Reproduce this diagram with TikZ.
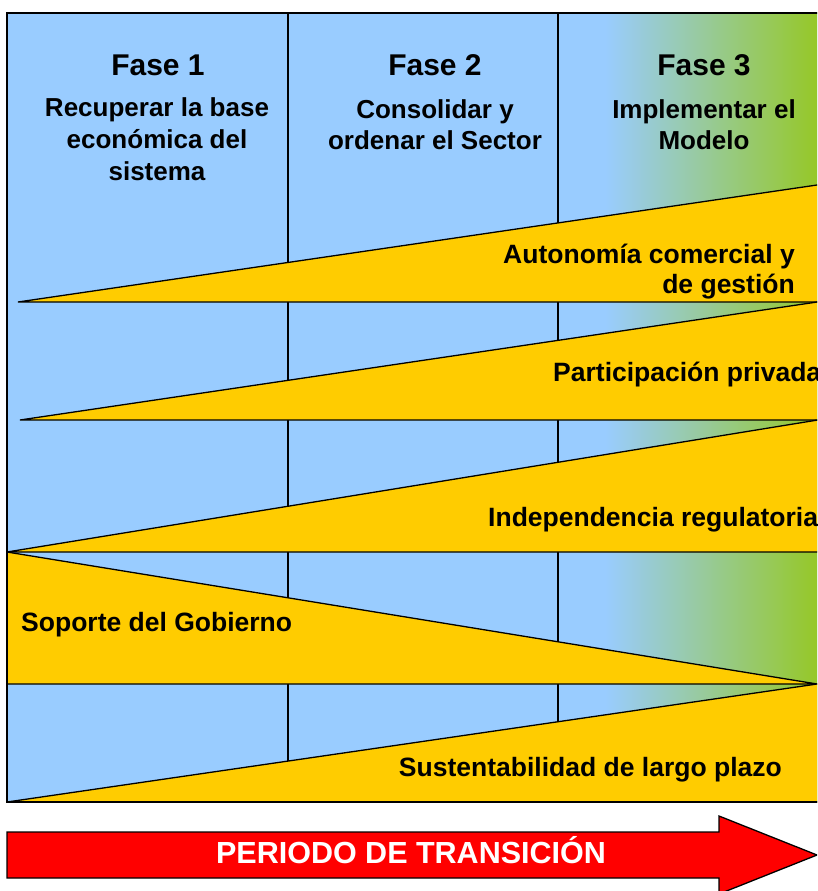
\documentclass[tikz,border=0pt]{standalone}
\usepackage{fontspec}
\setmainfont{Liberation Sans}
\definecolor{skyb}{RGB}{153,204,255}
\definecolor{grn}{RGB}{150,200,40}
\definecolor{gold}{RGB}{255,204,0}
\definecolor{redarrow}{RGB}{255,0,0}
\tikzset{
  band/.style={fill=gold,draw=black,line width=1.3pt,line join=miter},
  divline/.style={draw=black,line width=1.3pt},
  fase/.style={inner sep=0pt,anchor=base,font=\fontsize{30}{34}\selectfont\bfseries},
  sub/.style={inner sep=0pt,anchor=base,font=\fontsize{26}{31}\selectfont\bfseries},
  lab/.style={inner sep=0pt,font=\fontsize{26.5}{31}\selectfont\bfseries},
}
\begin{document}
\begin{tikzpicture}[x=1pt,y=-1pt]
\useasboundingbox (0,0) rectangle (817,891);
\clip (0,0) rectangle (817,891);
% background
\fill[skyb] (7,13) rectangle (830,802);
\shade[left color=skyb,right color=grn] (605,13) rectangle (817,802);
% phase dividers
\draw[divline] (288,13) -- (288,802);
\draw[divline] (558,13) -- (558,802);
% bands
\draw[band] (18,302) -- (830,183.1) -- (830,302) -- cycle;
\draw[band] (20,420) -- (830,300.1) -- (830,420) -- cycle;
\draw[band] (7,552) -- (830,418) -- (830,552) -- cycle;
\draw[band] (7,552) -- (817,684) -- (830,684) -- (7,684) -- cycle;
\draw[band] (7,802) -- (817,684) -- (830,684) -- (830,802) -- cycle;
% frame
\draw[black,line width=2pt] (7,13) rectangle (840,802);
% headings
\node[fase] (f1) at (158,75) {Fase 1};
\node[sub] (f1a) at (157,116) {Recuperar la base};
\node[sub] (f1b) at (157,148) {económica del};
\node[sub] (f1c) at (157,180) {sistema};
\node[fase] (f2) at (435,75) {Fase 2};
\node[sub] (f2a) at (435,118) {Consolidar y};
\node[sub] (f2b) at (435,149) {ordenar el Sector};
\node[fase] (f3) at (704,75) {Fase 3};
\node[sub] (f3a) at (704,118) {Implementar el};
\node[sub] (f3b) at (704,149) {Modelo};
% band labels
\node[lab,anchor=base east] (l1a) at (795,263) {Autonomía comercial y};
\node[lab,anchor=base east] (l1b) at (795,293) {de gestión};
\node[lab,anchor=base west] (l2) at (553,381) {Participación privada};
\node[lab,anchor=base west] (l3) at (488,526) {Independencia regulatoria};
\node[lab,anchor=base west] (l4) at (21,631) {Soporte del Gobierno};
\node[lab,anchor=base east] (l5) at (782,776) {Sustentabilidad de largo plazo};
% arrow
\draw[fill=redarrow,draw=black,line width=1.3pt,line join=miter]
  (7,832) -- (719,832) -- (719,816) -- (817,855) -- (719,894) -- (719,878) -- (7,878) -- cycle;
\node[inner sep=0pt,anchor=base,text=white,font=\fontsize{30.5}{34}\selectfont\bfseries] (tr) at (411,863) {PERIODO DE TRANSICIÓN};
\end{tikzpicture}
\end{document}
